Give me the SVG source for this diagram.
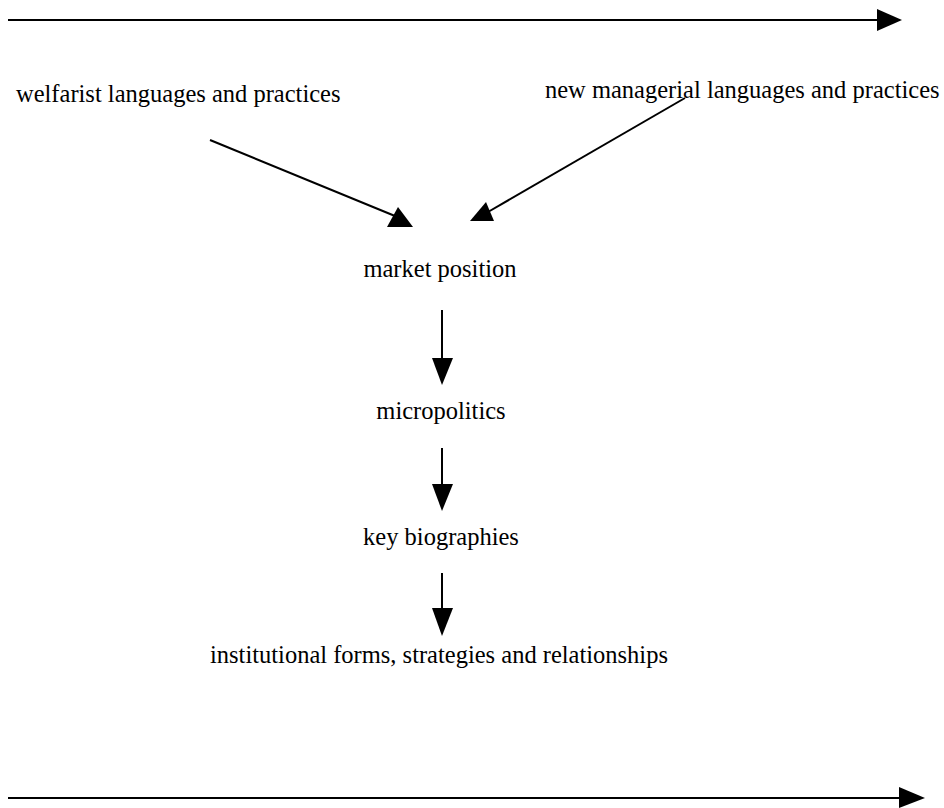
<svg xmlns="http://www.w3.org/2000/svg" width="944" height="808" viewBox="0 0 944 808">
<style>
text{font-family:"Liberation Serif","Times New Roman",serif;font-size:24.5px;fill:#000}
.c{text-anchor:middle}
line{stroke:#000;stroke-width:2}
polygon{fill:#000}
</style>
<rect width="944" height="808" fill="#fff"/>
<g id="connectors">
<line x1="8" y1="20" x2="880" y2="20"/>
<polygon points="877,9 902,20 877,31"/>
<line x1="8" y1="798" x2="902" y2="798"/>
<polygon points="899,787 925,798 899,808"/>
<line x1="210" y1="140" x2="395" y2="216"/>
<polygon points="398,207 387,227 413,227"/>
<line x1="685" y1="98" x2="488" y2="212"/>
<polygon points="486,202 470,221 494,221"/>
<line x1="442" y1="310" x2="442" y2="360"/>
<polygon points="432,358 453,358 442,385"/>
<line x1="442" y1="448" x2="442" y2="486"/>
<polygon points="432,484 453,484 442,511"/>
<line x1="442" y1="573" x2="442" y2="610"/>
<polygon points="432,608 453,608 442,636"/>
</g>
<g id="welfarist"><text x="16" y="102">welfarist languages and practices</text></g>
<g id="managerial"><text x="545" y="98">new managerial languages and practices</text></g>
<g id="market"><text class="c" x="440" y="277">market position</text></g>
<g id="micropolitics"><text class="c" x="441" y="419">micropolitics</text></g>
<g id="biographies"><text class="c" x="441" y="545">key biographies</text></g>
<g id="institutional"><text class="c" x="439" y="663">institutional forms, strategies and relationships</text></g>
</svg>
